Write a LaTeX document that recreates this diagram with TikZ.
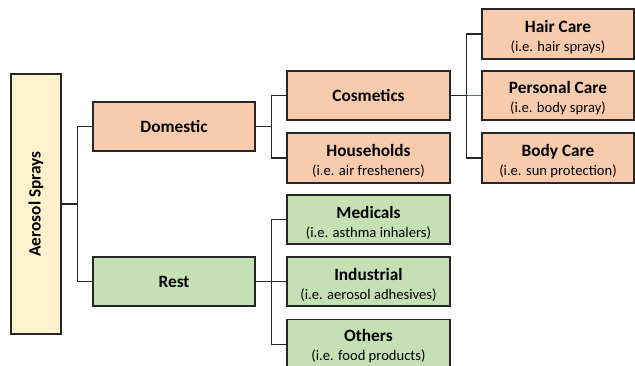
\documentclass[tikz,border=0pt]{standalone}
\usepackage{fontspec}
\setmainfont{Carlito}
\definecolor{peach}{HTML}{F8CBAD}
\definecolor{lgreen}{HTML}{C5E0B4}
\definecolor{lyellow}{HTML}{FFF2CC}
\definecolor{edgec}{HTML}{262626}
\definecolor{bluec}{HTML}{4472C4}
\newcommand{\st}{\fontsize{14.6}{18.5}\selectfont\mdseries}
\begin{document}
\begin{tikzpicture}[x=1pt,y=-1pt,
  txt/.style={inner sep=0pt,align=center,text=black,font=\fontsize{17.3}{19}\selectfont\bfseries},
  box/.style={draw=edgec,line width=1.3pt,txt},
  two/.style={label={[txt,yshift=-3pt]center:{#1}}},
  mid/.style={box,minimum width=163pt,minimum height=49pt},
  leaf/.style={box,minimum width=152pt,minimum height=50pt},
  conn/.style={draw=edgec,line width=1.3pt}]
\useasboundingbox (0,0) rectangle (635,365);
\clip (0,0) rectangle (635,365);
\fill[white] (0,0) rectangle (635,365);
\node[box,fill=lyellow,minimum width=50pt,minimum height=260pt] (aer) at (36,204) {};
\node[txt,rotate=90] (aert) at (aer.center) {Aerosol Sprays};
\node[mid,fill=peach,minimum width=162pt] (dom) at (174,126.5) {Domestic};
\node[mid,fill=lgreen,minimum width=162pt] (rest) at (174,281.5) {Rest};
\node[mid,fill=peach] (cos) at (368.5,95.5) {Cosmetics};
\node[mid,fill=peach,minimum height=50pt,two={Households\\\st (i.e. air fresheners)}] (hou) at (368.5,158) {};
\node[mid,fill=lgreen,two={Medicals\\\st (i.e. asthma inhalers)}] (med) at (368.5,219.5) {};
\node[mid,fill=lgreen,two={Industrial\\\st (i.e. aerosol adhesives)}] (ind) at (368.5,281.5) {};
\node[mid,fill=lgreen,minimum height=50pt,anchor=north] (oth) at (368.5,319) {};
\node[txt,yshift=-3pt] (otht) at (368.5,343.5) {Others\\\st (i.e. food products)};
\node[leaf,fill=peach,two={Hair Care\\\st (i.e. hair sprays)}] (hair) at (558,34) {};
\node[leaf,fill=peach,minimum height=49pt,two={Personal Care\\\st (i.e. body spray)}] (pers) at (558,95.5) {};
\node[leaf,fill=peach,two={Body Care\\\st (i.e. sun protection)}] (body) at (558,158) {};
% connectors
\draw[conn] (aer.east) -- ++(16,0) coordinate (j1) |- (dom.west);
\draw[conn] (j1) |- (rest.west);
\draw[conn] (dom.east) -- ++(16,0) coordinate (j2) |- (cos.west);
\draw[conn] (j2) |- (hou.west);
\draw[conn] (rest.east) -- ++(16,0) coordinate (j3) |- (med.west);
\draw[conn] (j3) -- (ind.west);
\draw[conn] (j3) |- (oth.west);
\draw[conn] (cos.east) -- ++(16,0) coordinate (j4) |- (hair.west);
\draw[conn] (j4) |- (body.west);
\draw[line width=1.3pt,draw=bluec] (j4) -- (pers.west);
\end{tikzpicture}
\end{document}
